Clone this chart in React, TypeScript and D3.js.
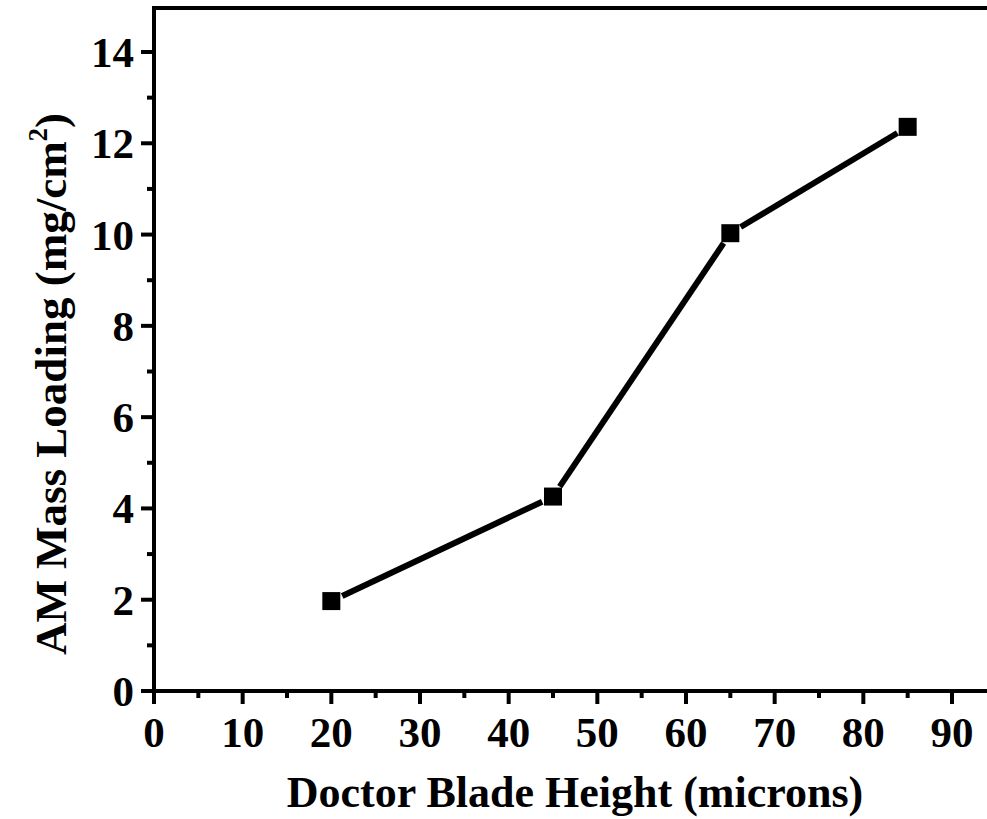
import { useEffect, useRef } from "react"
import * as d3 from "d3"

// Doctor blade height (microns) vs active material mass loading (mg/cm2)
const bladeHeights = [20, 45, 65, 85]
const massLoading = [1.97, 4.26, 10.03, 12.36]

const xMajorTicks = [0, 10, 20, 30, 40, 50, 60, 70, 80, 90]
const xMinorTicks = [5, 15, 25, 35, 45, 55, 65, 75, 85]
const yMajorTicks = [0, 2, 4, 6, 8, 10, 12, 14]
const yMinorTicks = [1, 3, 5, 7, 9, 11, 13]

const xTitle = "Doctor Blade Height (microns)"

const FONT = "'Liberation Serif', 'Times New Roman', serif"

const App = () => {
  const svgRef = useRef<SVGSVGElement | null>(null)

  useEffect(() => {
    if (!svgRef.current) return
    const svg = d3.select(svgRef.current)
    svg.selectAll("*").remove()

    const left = 154
    const bottom = 691
    const top = 8

    const x = d3.scaleLinear().domain([0, 90]).range([left, 952])
    const y = d3.scaleLinear().domain([0, 14]).range([bottom, 52])

    const g = svg.append("g")

    // frame (top + left + bottom; right side falls outside the view)
    g.append("path")
      .attr("d", `M${x(95)},${top} L${left},${top} L${left},${bottom} L${x(95)},${bottom}`)
      .attr("fill", "none")
      .attr("stroke", "#000")
      .attr("stroke-width", 4)
      .attr("stroke-linecap", "square")

    // x ticks
    g.selectAll(".xmaj")
      .data(xMajorTicks)
      .join("line")
      .attr("x1", (d) => x(d))
      .attr("x2", (d) => x(d))
      .attr("y1", bottom)
      .attr("y2", bottom + 13)
      .attr("stroke", "#000")
      .attr("stroke-width", 4)
    g.selectAll(".xmin")
      .data(xMinorTicks)
      .join("line")
      .attr("x1", (d) => x(d))
      .attr("x2", (d) => x(d))
      .attr("y1", bottom)
      .attr("y2", bottom + 7)
      .attr("stroke", "#000")
      .attr("stroke-width", 4)
    g.selectAll(".xlab")
      .data(xMajorTicks)
      .join("text")
      .attr("x", (d) => x(d))
      .attr("y", bottom + 56)
      .attr("text-anchor", "middle")
      .attr("font-family", FONT)
      .attr("font-weight", "bold")
      .attr("font-size", 43)
      .text((d) => d)

    // y ticks
    g.selectAll(".ymaj")
      .data(yMajorTicks)
      .join("line")
      .attr("x1", left - 13)
      .attr("x2", left)
      .attr("y1", (d) => y(d))
      .attr("y2", (d) => y(d))
      .attr("stroke", "#000")
      .attr("stroke-width", 4)
    g.selectAll(".ymin")
      .data(yMinorTicks)
      .join("line")
      .attr("x1", left - 7)
      .attr("x2", left)
      .attr("y1", (d) => y(d))
      .attr("y2", (d) => y(d))
      .attr("stroke", "#000")
      .attr("stroke-width", 4)
    g.selectAll(".ylab")
      .data(yMajorTicks)
      .join("text")
      .attr("x", left - 20)
      .attr("y", (d) => y(d) + 15)
      .attr("text-anchor", "end")
      .attr("font-family", FONT)
      .attr("font-weight", "bold")
      .attr("font-size", 43)
      .text((d) => d)

    // data line with gaps around markers
    const pts = bladeHeights.map((b, i) => [x(b), y(massLoading[i])] as [number, number])
    const gap = 12
    for (let i = 0; i < pts.length - 1; i++) {
      const [x1, y1] = pts[i]
      const [x2, y2] = pts[i + 1]
      const len = Math.hypot(x2 - x1, y2 - y1)
      const ux = (x2 - x1) / len
      const uy = (y2 - y1) / len
      g.append("line")
        .attr("x1", x1 + ux * gap)
        .attr("y1", y1 + uy * gap)
        .attr("x2", x2 - ux * gap)
        .attr("y2", y2 - uy * gap)
        .attr("stroke", "#000")
        .attr("stroke-width", 6)
    }

    g.selectAll(".marker")
      .data(pts)
      .join("rect")
      .attr("x", (d) => d[0] - 9)
      .attr("y", (d) => d[1] - 9)
      .attr("width", 18)
      .attr("height", 18)
      .attr("fill", "#000")

    // axis titles
    g.append("text")
      .attr("x", 575)
      .attr("y", 807)
      .attr("text-anchor", "middle")
      .attr("font-family", FONT)
      .attr("font-weight", "bold")
      .attr("font-size", 44)
      .text(xTitle)

    const yt = g
      .append("text")
      .attr("transform", "translate(66,384) rotate(-90)")
      .attr("text-anchor", "middle")
      .attr("font-family", FONT)
      .attr("font-weight", "bold")
      .attr("font-size", 45)
    yt.append("tspan").text("AM Mass Loading (mg/cm")
    yt.append("tspan").attr("dy", -19).attr("font-size", 27).text("2")
    yt.append("tspan").attr("dy", 19).text(")")
  }, [])

  return (
    <div style={{ position: "absolute", left: 0, top: 0 }}>
      <svg ref={svgRef} width={987} height={819} style={{ display: "block", background: "#fff" }} />
    </div>
  )
}

export default App
